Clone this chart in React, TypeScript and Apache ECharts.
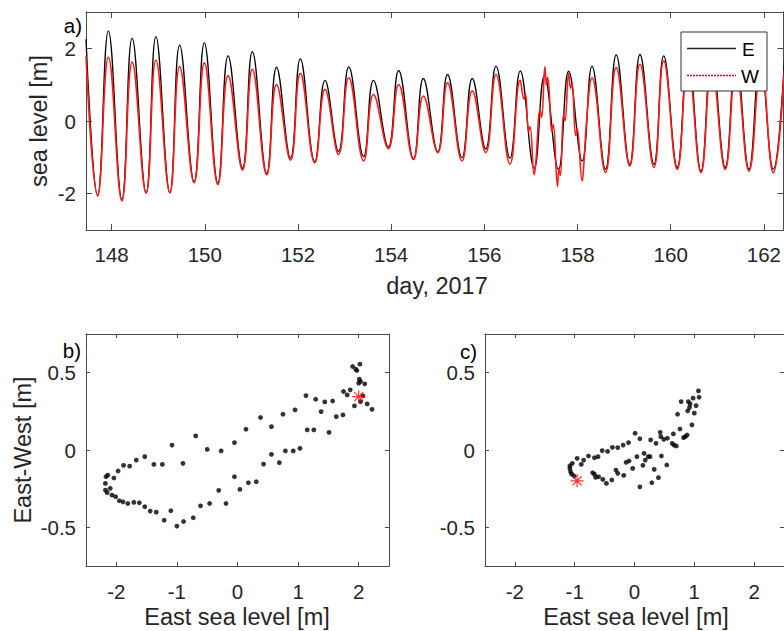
import React, { useEffect, useRef } from "react";
import * as echarts from "echarts";

// ---- Panel a) : sea level time series (day, m) ----
const DAYS_E = [
  147.45, 147.70, 147.93, 148.22, 148.44, 148.74, 148.95, 149.25, 149.46, 149.77,
  149.99, 150.28, 150.50, 150.81, 151.02, 151.33, 151.54, 151.84, 152.05, 152.36,
  152.58, 152.87, 153.09, 153.41, 153.62, 153.94, 154.16, 154.48, 154.69, 155.00,
  155.21, 155.52, 155.74, 156.03, 156.25, 156.55, 156.77, 157.07, 157.29, 157.59,
  157.81, 158.10, 158.31, 158.60, 158.83, 159.12, 159.34, 159.64, 159.85, 160.14,
  160.37, 160.65, 160.88, 161.17, 161.40, 161.68, 161.92, 162.20, 162.44,
];
const E_LEVEL = [
  2.25, -2.04, 2.48, -2.16, 2.28, -1.97, 2.32, -1.97, 2.09, -1.67,
  2.15, -1.71, 1.79, -1.30, 1.91, -1.44, 1.48, -1.02, 1.71, -1.12,
  1.12, -0.84, 1.49, -0.98, 1.12, -0.72, 1.39, -1.04, 1.17, -0.85,
  1.28, -1.01, 1.17, -0.77, 1.51, -1.02, 1.38, -1.30, 1.25, -1.34,
  1.37, -1.10, 1.51, -1.33, 1.82, -1.19, 1.83, -1.19, 1.79, -1.28,
  1.90, -1.38, 1.85, -1.28, 1.80, -1.33, 1.70, -1.33, 1.65,
];
const DAYS_W = [
  147.45, 147.70, 147.93, 148.22, 148.44, 148.74, 148.95, 149.25, 149.46, 149.77,
  149.99, 150.28, 150.50, 150.81, 151.02, 151.33, 151.54, 151.84, 152.05, 152.36,
  152.58, 152.87, 153.09, 153.41, 153.62, 153.94, 154.16, 154.48, 154.69, 155.00,
  155.21, 155.52, 155.74, 156.03, 156.25, 156.55, 156.77, 156.85, 156.88, 156.95,
  156.98, 157.07, 157.10, 157.20, 157.23, 157.30, 157.33, 157.36, 157.45, 157.48,
  157.57, 157.60, 157.63, 157.70, 157.73, 157.81, 157.85, 157.88, 157.96, 157.99,
  158.10, 158.13, 158.20, 158.31, 158.60, 158.83, 159.12, 159.34, 159.64, 159.85,
  160.14, 160.37, 160.65, 160.88, 161.17, 161.40, 161.68, 161.94, 162.20, 162.44,
];
const W_LEVEL = [
  1.78, -2.06, 1.75, -2.20, 1.62, -1.99, 1.67, -1.98, 1.50, -1.70,
  1.60, -1.75, 1.25, -1.35, 1.42, -1.48, 1.00, -1.08, 1.31, -1.15,
  0.87, -0.92, 1.19, -1.10, 0.73, -0.76, 1.00, -1.06, 0.69, -0.87,
  1.05, -1.10, 0.83, -0.87, 1.28, -1.19, 1.12, 0.60, 0.75, -0.30,
  -0.15, -1.48, -1.20, 0.30, 0.10, 1.50, 1.00, 1.20, -0.30, -0.10,
  -1.80, -1.30, -1.50, 0.20, 0.00, 1.32, 0.90, 1.05, -0.40, -0.20,
  -1.65, -1.30, 0.10, 1.19, -1.42, 1.47, -1.24, 1.56, -1.28, 1.65,
  -1.33, 1.55, -1.42, 1.50, -1.33, 1.45, -1.38, 1.56, -1.42, 1.40,
];

// ---- Panel b) : East sea level vs East-West ----
const B_EAST = [
  2.02, 1.90, 1.95, 1.97, 2.01, 2.03, 2.00, 2.10, 1.75, 1.86,
  1.81, 2.03, 1.93, 2.14, 2.22, 1.74, 1.63, 1.13, 1.29, 1.44,
  1.57, 1.38, 0.95, 0.75, 0.38, 1.15, 1.26, 1.51, 0.56, 0.14,
  -0.69, -1.08, -0.50, -0.27, -0.05, 1.03, 0.92, 0.79, 0.56, 0.43,
  0.69, -0.90, -1.24, -1.38, -1.53, -1.67, -1.78, -1.88, -1.97, -2.04,
  -2.14, -2.17, -2.10, -2.18, -2.18, -2.15, -2.07, -2.01, -1.95, -1.89,
  -1.81, -1.71, -1.62, -1.53, -1.44, -1.34, -1.10, -1.21, -1.00, -0.89,
  -0.73, -0.61, -0.46, -0.19, -0.31, -0.05, 0.04, 0.18, 0.31, 2.07,
];
const B_EW = [
  0.555, 0.540, 0.523, 0.514, 0.458, 0.443, 0.432, 0.428, 0.378, 0.389,
  0.356, 0.313, 0.285, 0.298, 0.263, 0.227, 0.216, 0.352, 0.328, 0.311,
  0.317, 0.248, 0.259, 0.231, 0.210, 0.130, 0.130, 0.114, 0.151, 0.134,
  0.091, 0.032, 0.004, -0.006, 0.048, 0.011, -0.006, -0.006, -0.028, -0.091,
  -0.082, -0.086, -0.093, -0.093, -0.043, -0.065, -0.104, -0.099, -0.136, -0.181,
  -0.162, -0.173, -0.248, -0.216, -0.259, -0.276, -0.292, -0.302, -0.328, -0.335,
  -0.346, -0.339, -0.341, -0.367, -0.395, -0.402, -0.393, -0.454, -0.492, -0.462,
  -0.438, -0.361, -0.346, -0.346, -0.261, -0.173, -0.255, -0.212, -0.205, 0.350,
];
const B_STAR = [2.0, 0.345];

// ---- Panel c) ----
const C_EAST = [
  1.07, 1.08, 0.98, 0.90, 0.93, 0.92, 0.78, 1.03, 0.89, 1.00,
  0.72, 0.96, 0.76, 0.88, 0.82, 0.85, 0.65, 0.55, 0.43, 0.44,
  0.49, 0.27, 0.36, 0.63, 0.66, 0.70, 0.01, 0.09, -0.10, -0.19,
  -0.28, -0.37, -0.45, -0.54, -0.61, -0.67, -0.77, -0.85, -0.96, -0.89,
  -1.04, -1.08, -1.08, -1.07, -1.05, -1.01, -0.70, -0.67, -0.60, -0.53,
  -0.65, -0.47, -0.38, -0.31, -0.28, -0.18, -0.14, -0.09, -0.03, 0.04,
  0.16, 0.14, 0.18, 0.23, 0.26, 0.09, 0.29, 0.33, 0.40, 0.45,
  0.54,
];
const C_EW = [
  0.382, 0.341, 0.335, 0.313, 0.298, 0.276, 0.313, 0.287, 0.253, 0.238,
  0.231, 0.162, 0.136, 0.097, 0.080, 0.086, 0.104, 0.076, 0.114, 0.086,
  0.069, 0.065, 0.043, 0.043, 0.032, 0.026, 0.108, 0.073, 0.048, 0.032,
  0.015, 0.017, -0.009, -0.004, -0.043, -0.050, -0.039, -0.065, -0.054, -0.093,
  -0.086, -0.102, -0.119, -0.140, -0.156, -0.168, -0.147, -0.156, -0.173, -0.190,
  -0.177, -0.216, -0.194, -0.130, -0.151, -0.164, -0.080, -0.071, -0.119, -0.043,
  -0.022, -0.099, -0.065, -0.043, -0.043, -0.238, -0.212, -0.125, -0.179, -0.039,
  -0.097,
];
const C_STAR = [-0.96, -0.199];

// ---- ticks ----
const DAY_TICKS = [148, 150, 152, 154, 156, 158, 160, 162];
const LEVEL_TICKS = [-2, 0, 2];
const EAST_TICKS = [-2, -1, 0, 1, 2];
const EW_TICKS = [-0.5, 0, 0.5];

const FONT = "'Liberation Sans', Arial, Helvetica, sans-serif";
const TEXT = "#262626";
const AXIS = "#4a4a4a";
const STAR_PATH =
  "path://M10,0 L10,20 M0,10 L20,10 M3,3 L17,17 M3,17 L17,3";

function makeAxis(
  gridIndex: number,
  min: number,
  max: number,
  ticks: number[],
  position: string,
  labels: boolean,
  tickLen: number,
  margin: number
) {
  return {
    type: "value",
    gridIndex,
    min,
    max,
    position,
    splitLine: { show: false },
    axisLine: { show: true, onZero: false, lineStyle: { color: AXIS, width: 1 } },
    axisTick: {
      show: true,
      inside: true,
      length: tickLen,
      customValues: ticks,
      lineStyle: { color: AXIS, width: 1 },
    },
    axisLabel: {
      show: labels,
      customValues: ticks,
      margin,
      color: TEXT,
      fontSize: 20.5,
      fontFamily: FONT,
      formatter: (v: number) => String(v),
    },
  };
}

export default function App() {
  const ref = useRef<HTMLDivElement>(null);

  useEffect(() => {
    if (!ref.current) return;
    const chart = echarts.init(ref.current, null, { renderer: "svg" });

    const eData = DAYS_E.map((d, i) => [d, E_LEVEL[i]]);
    const wData = DAYS_W.map((d, i) => [d, W_LEVEL[i]]);
    const bData = B_EAST.map((x, i) => [x, B_EW[i]]);
    const cData = C_EAST.map((x, i) => [x, C_EW[i]]);

    const tMin = 147.45;
    const tMax = 162.42;

    const option: any = {
      animation: false,
      backgroundColor: "#ffffff",
      grid: [
        { left: 86, top: 12, width: 701, height: 218, containLabel: false },
        { left: 86, top: 334, width: 303, height: 232, containLabel: false },
        { left: 485, top: 334, width: 303, height: 232, containLabel: false },
      ],
      xAxis: [
        makeAxis(0, tMin, tMax, DAY_TICKS, "bottom", true, 6, 14),
        makeAxis(0, tMin, tMax, DAY_TICKS, "top", false, 6, 8),
        makeAxis(1, -2.5, 2.5, EAST_TICKS, "bottom", true, 4, 15),
        makeAxis(1, -2.5, 2.5, EAST_TICKS, "top", false, 4, 8),
        makeAxis(2, -2.5, 2.5, EAST_TICKS, "bottom", true, 4, 15),
        makeAxis(2, -2.5, 2.5, EAST_TICKS, "top", false, 4, 8),
      ],
      yAxis: [
        makeAxis(0, -3, 3, LEVEL_TICKS, "left", true, 6, 10),
        makeAxis(0, -3, 3, LEVEL_TICKS, "right", false, 6, 8),
        makeAxis(1, -0.75, 0.75, EW_TICKS, "left", true, 4, 10),
        makeAxis(1, -0.75, 0.75, EW_TICKS, "right", false, 4, 8),
        makeAxis(2, -0.75, 0.75, EW_TICKS, "left", true, 4, 10),
        makeAxis(2, -0.75, 0.75, EW_TICKS, "right", false, 4, 8),
      ],
      series: [
        {
          name: "E",
          type: "line",
          xAxisIndex: 0,
          yAxisIndex: 0,
          data: eData,
          smooth: 0.45,
          showSymbol: false,
          lineStyle: { color: "#000000", width: 1.3 },
          z: 2,
        },
        {
          name: "W",
          type: "line",
          xAxisIndex: 0,
          yAxisIndex: 0,
          data: wData,
          smooth: 0.45,
          showSymbol: false,
          lineStyle: { color: "#ff1a1a", width: 1.6 },
          z: 3,
        },
        {
          type: "scatter",
          xAxisIndex: 2,
          yAxisIndex: 2,
          data: bData,
          symbol: "circle",
          symbolSize: 4.8,
          itemStyle: { color: "#000000" },
        },
        {
          type: "scatter",
          xAxisIndex: 2,
          yAxisIndex: 2,
          data: [B_STAR],
          symbol: STAR_PATH,
          symbolSize: 13,
          itemStyle: { color: "transparent", borderColor: "#ff0000", borderWidth: 1.2 },
          z: 5,
        },
        {
          type: "scatter",
          xAxisIndex: 4,
          yAxisIndex: 4,
          data: cData,
          symbol: "circle",
          symbolSize: 4.8,
          itemStyle: { color: "#000000" },
        },
        {
          type: "scatter",
          xAxisIndex: 4,
          yAxisIndex: 4,
          data: [C_STAR],
          symbol: STAR_PATH,
          symbolSize: 13,
          itemStyle: { color: "transparent", borderColor: "#ff0000", borderWidth: 1.2 },
          z: 5,
        },
      ],
      graphic: [
        // legend box
        {
          type: "rect",
          z: 100,
          shape: { x: 681, y: 32, width: 86, height: 59 },
          style: { fill: "#ffffff", stroke: "#333333", lineWidth: 1 },
        },
        {
          type: "line",
          z: 101,
          shape: { x1: 687, y1: 48.5, x2: 736, y2: 48.5 },
          style: { stroke: "#222222", lineWidth: 1.3 },
        },
        {
          type: "line",
          z: 101,
          shape: { x1: 687, y1: 75.5, x2: 736, y2: 75.5 },
          style: { stroke: "#ff0000", lineWidth: 1.4, lineDash: [2, 1] },
        },
        {
          type: "text",
          z: 101,
          x: 742,
          y: 49,
          style: { text: "E", fill: "#000000", fontSize: 19, fontFamily: FONT, align: "left", verticalAlign: "middle" },
        },
        {
          type: "text",
          z: 101,
          x: 741,
          y: 76,
          style: { text: "W", fill: "#000000", fontSize: 19, fontFamily: FONT, align: "left", verticalAlign: "middle" },
        },
        // panel letters
        {
          type: "text",
          x: 82,
          y: 25,
          style: { text: "a)", fill: "#000000", fontSize: 20.5, fontFamily: FONT, align: "right", verticalAlign: "middle" },
        },
        {
          type: "text",
          x: 81,
          y: 350,
          style: { text: "b)", fill: "#000000", fontSize: 20.5, fontFamily: FONT, align: "right", verticalAlign: "middle" },
        },
        {
          type: "text",
          x: 477,
          y: 351,
          style: { text: "c)", fill: "#000000", fontSize: 20.5, fontFamily: FONT, align: "right", verticalAlign: "middle" },
        },
        // axis titles
        {
          type: "text",
          x: 39,
          y: 121,
          rotation: Math.PI / 2,
          style: { text: "sea level [m]", fill: TEXT, fontSize: 23.5, fontFamily: FONT, align: "center", verticalAlign: "middle" },
        },
        {
          type: "text",
          x: 437,
          y: 286,
          style: { text: "day, 2017", fill: TEXT, fontSize: 23.5, fontFamily: FONT, align: "center", verticalAlign: "middle" },
        },
        {
          type: "text",
          x: 23,
          y: 450,
          rotation: Math.PI / 2,
          style: { text: "East-West [m]", fill: TEXT, fontSize: 23.5, fontFamily: FONT, align: "center", verticalAlign: "middle" },
        },
        {
          type: "text",
          x: 237,
          y: 617,
          style: { text: "East sea level [m]", fill: TEXT, fontSize: 23.5, fontFamily: FONT, align: "center", verticalAlign: "middle" },
        },
        {
          type: "text",
          x: 636,
          y: 617,
          style: { text: "East sea level [m]", fill: TEXT, fontSize: 23.5, fontFamily: FONT, align: "center", verticalAlign: "middle" },
        },
      ],
    };

    chart.setOption(option);
    return () => chart.dispose();
  }, []);

  return (
    <div
      ref={ref}
      style={{ position: "absolute", left: 0, top: 0, width: 784, height: 631, overflow: "hidden" }}
    />
  );
}
